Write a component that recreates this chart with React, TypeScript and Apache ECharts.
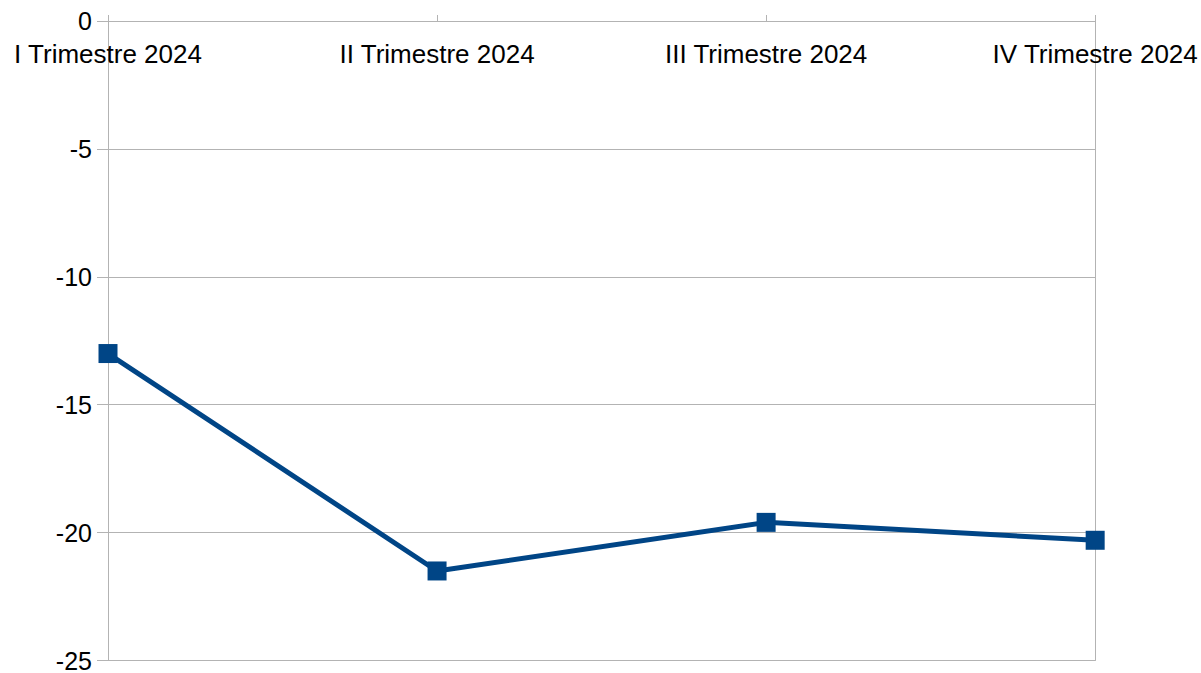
import React, { useEffect, useRef } from "react";
import * as echarts from "echarts";

const categories = ["I Trimestre 2024", "II Trimestre 2024", "III Trimestre 2024", "IV Trimestre 2024"];
const values = [-13.0, -21.5, -19.6, -20.3];
const yMin = -25;
const yMax = 0;
const yInterval = 5;

export default function App() {
  const ref = useRef<HTMLDivElement>(null);
  useEffect(() => {
    document.body.style.margin = "0";
    document.body.style.overflow = "hidden";
    const chart = echarts.init(ref.current!, null, { renderer: "svg" });
    const font = "'Liberation Sans', Arial, sans-serif";
    chart.setOption({
      animation: false,
      backgroundColor: "#ffffff",
      grid: { left: 108, right: 104, top: 21, bottom: 10, containLabel: false },
      xAxis: {
        type: "category",
        data: categories,
        position: "top",
        boundaryGap: false,
        axisLine: { show: true, onZero: false, lineStyle: { color: "#b3b3b3", width: 1 } },
        axisTick: { show: true, inside: false, length: 6, lineStyle: { color: "#b3b3b3" } },
        axisLabel: {
          inside: true,
          margin: 20,
          color: "#000000",
          fontSize: 26,
          fontFamily: font,
        },
        splitLine: { show: false },
      },
      yAxis: [
        {
          type: "value",
          min: yMin,
          max: yMax,
          interval: yInterval,
          axisLine: { show: true, lineStyle: { color: "#b3b3b3", width: 1 } },
          axisTick: { show: true, length: 11, lineStyle: { color: "#b3b3b3" } },
          axisLabel: {
            color: "#000000",
            fontSize: 25,
            fontFamily: font,
            margin: 16,
          },
          splitLine: { show: true, lineStyle: { color: "#b3b3b3", width: 1 } },
        },
        {
          type: "value",
          position: "right",
          min: yMin,
          max: yMax,
          interval: yInterval,
          axisLine: { show: true, lineStyle: { color: "#b3b3b3", width: 1 } },
          axisTick: { show: false },
          axisLabel: { show: false },
          splitLine: { show: false },
        },
      ],
      series: [
        {
          type: "line",
          data: values,
          yAxisIndex: 0,
          symbol: "rect",
          symbolSize: 19,
          showAllSymbol: true,
          itemStyle: { color: "#004586" },
          lineStyle: { color: "#004586", width: 5 },
        },
      ],
    });
    return () => chart.dispose();
  }, []);
  return (
    <div
      ref={ref}
      style={{ position: "fixed", left: 0, top: 0, width: "100vw", height: "100vh" }}
    />
  );
}
